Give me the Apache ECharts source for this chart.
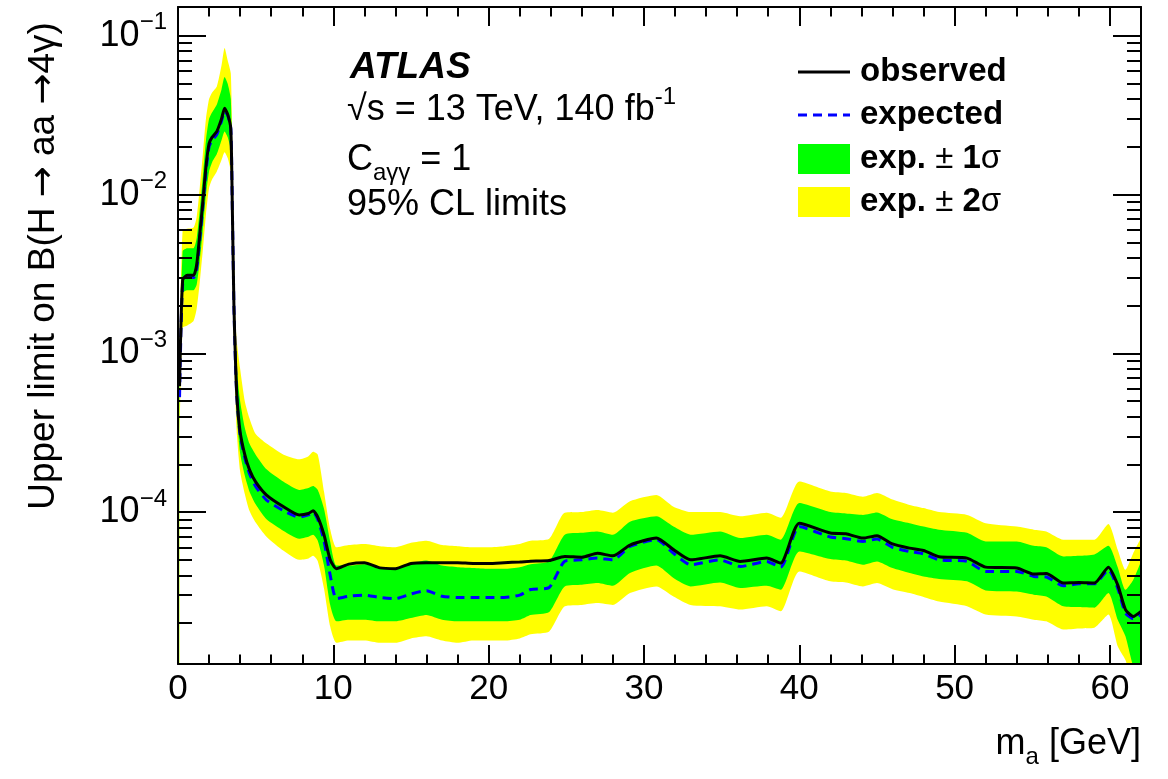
<!DOCTYPE html>
<html>
<head>
<meta charset="utf-8">
<script src="https://cdn.jsdelivr.net/npm/echarts@6.0.0/dist/echarts.min.js"></script>
<style>
html, body { margin: 0; padding: 0; background: #fff; }
#chart { width: 1168px; height: 779px; }
</style>
</head>
<body>
<div id="chart"></div>
<script>
// m_a [GeV]
var mass = [0.1, 0.3, 0.6, 1.0, 1.2, 1.4, 1.6, 1.8, 2.0, 2.2,
    2.5, 2.8, 3.0, 3.2, 3.4, 3.5, 3.6, 3.7, 3.8, 4.0,
    4.3, 4.6, 5.0, 5.7, 6.8, 7.8, 8.4, 8.7, 9.0, 9.4,
    9.8, 10.2, 11, 12, 13, 14, 15, 16, 17, 18,
    19, 20, 21, 22, 22.7, 23.9, 24.9, 26, 27, 28,
    29.1, 30.8, 31.9, 33, 34.9, 36.2, 37.9, 38.8, 40.0, 42,
    43, 44.1, 45, 46, 47.1, 48, 49, 50.8, 52, 54,
    55.1, 55.9, 57, 58, 59, 59.9, 60.5, 61, 61.5, 62];

var observed = [6.2e-4, 2.9e-3, 3.1e-3, 3.1e-3, 3.6e-3, 5.6e-3, 9.0e-3, 1.5e-2, 2.1e-2, 2.3e-2,
    2.5e-2, 3.0e-2, 3.5e-2, 3.2e-2, 2.6e-2, 8.0e-3, 2.0e-3, 9.0e-4, 5.2e-4, 3.2e-4,
    2.3e-4, 1.85e-4, 1.55e-4, 1.28e-4, 1.08e-4, 9.6e-5, 9.8e-5, 1.02e-4, 9.3e-5, 7.2e-5,
    5.0e-5, 4.4e-5, 4.7e-5, 4.8e-5, 4.45e-5, 4.4e-5, 4.75e-5, 4.8e-5, 4.8e-5, 4.8e-5,
    4.75e-5, 4.75e-5, 4.8e-5, 4.85e-5, 4.9e-5, 4.95e-5, 5.25e-5, 5.2e-5, 5.5e-5, 5.3e-5,
    6.2e-5, 6.86e-5, 5.8e-5, 5.0e-5, 5.3e-5, 4.89e-5, 5.13e-5, 4.77e-5, 8.5e-5, 7.38e-5,
    7.3e-5, 6.86e-5, 7.1e-5, 6.3e-5, 5.93e-5, 5.73e-5, 5.23e-5, 5.13e-5, 4.5e-5, 4.44e-5,
    4.07e-5, 4.1e-5, 3.57e-5, 3.6e-5, 3.57e-5, 4.5e-5, 3.48e-5, 2.43e-5, 2.2e-5, 2.37e-5];

var expected = [5.3e-4, 2.75e-3, 3.0e-3, 3.0e-3, 3.4e-3, 5.2e-3, 8.5e-3, 1.4e-2, 2.0e-2, 2.2e-2,
    2.4e-2, 2.9e-2, 3.35e-2, 3.15e-2, 2.6e-2, 8.0e-3, 2.0e-3, 8.6e-4, 5.0e-4, 3.05e-4,
    2.2e-4, 1.75e-4, 1.45e-4, 1.19e-4, 1.02e-4, 9.3e-5, 9.6e-5, 1.0e-4, 9.0e-5, 6.6e-5,
    4.0e-5, 2.85e-5, 2.95e-5, 3.0e-5, 2.9e-5, 2.85e-5, 3.05e-5, 3.2e-5, 2.95e-5, 2.9e-5,
    2.9e-5, 2.9e-5, 2.9e-5, 3.0e-5, 3.25e-5, 3.35e-5, 4.9e-5, 5.0e-5, 5.13e-5, 5.0e-5,
    6.07e-5, 6.7e-5, 5.5e-5, 4.66e-5, 5.0e-5, 4.54e-5, 4.89e-5, 4.5e-5, 8.1e-5, 6.96e-5,
    6.8e-5, 6.53e-5, 6.76e-5, 6.0e-5, 5.65e-5, 5.45e-5, 5.0e-5, 4.89e-5, 4.23e-5, 4.23e-5,
    3.93e-5, 3.9e-5, 3.43e-5, 3.53e-5, 3.53e-5, 4.33e-5, 3.32e-5, 2.31e-5, 2.13e-5, 2.26e-5];

// expected -1 sigma / +1 sigma
var oneSigmaLow = [4.2e-4, 2.4e-3, 2.5e-3, 2.5e-3, 2.7e-3, 3.8e-3, 6.0e-3, 1.0e-2, 1.4e-2, 1.6e-2,
    1.8e-2, 2.2e-2, 2.5e-2, 2.3e-2, 1.9e-2, 6.0e-3, 1.5e-3, 6.6e-4, 3.9e-4, 2.35e-4,
    1.7e-4, 1.35e-4, 1.12e-4, 9.0e-5, 7.6e-5, 6.8e-5, 7.0e-5, 7.2e-5, 6.6e-5, 4.6e-5,
    2.6e-5, 2.05e-5, 2.1e-5, 2.1e-5, 2.05e-5, 2.05e-5, 2.15e-5, 2.25e-5, 2.1e-5, 2.05e-5,
    2.05e-5, 2.05e-5, 2.05e-5, 2.1e-5, 2.25e-5, 2.35e-5, 3.4e-5, 3.48e-5, 3.57e-5, 3.43e-5,
    4.13e-5, 4.6e-5, 3.84e-5, 3.4e-5, 3.6e-5, 3.32e-5, 3.43e-5, 3.24e-5, 5.65e-5, 5.06e-5,
    4.95e-5, 4.66e-5, 4.89e-5, 4.44e-5, 4.13e-5, 3.93e-5, 3.79e-5, 3.66e-5, 3.21e-5, 3.16e-5,
    3.02e-5, 2.94e-5, 2.55e-5, 2.52e-5, 2.5e-5, 3.09e-5, 2.1e-5, 1.65e-5, 1.07e-5, 9.0e-6];

var oneSigmaHigh = [8.0e-4, 4.4e-3, 4.6e-3, 4.6e-3, 5.3e-3, 8.0e-3, 1.3e-2, 2.2e-2, 3.0e-2, 3.3e-2,
    3.7e-2, 4.6e-2, 5.5e-2, 5.0e-2, 4.0e-2, 1.3e-2, 3.2e-3, 1.35e-3, 7.8e-4, 5.0e-4,
    3.4e-4, 2.7e-4, 2.3e-4, 1.86e-4, 1.55e-4, 1.38e-4, 1.42e-4, 1.46e-4, 1.38e-4, 1.05e-4,
    6.5e-5, 4.6e-5, 4.6e-5, 4.7e-5, 4.5e-5, 4.45e-5, 4.75e-5, 4.95e-5, 4.6e-5, 4.5e-5,
    4.45e-5, 4.4e-5, 4.4e-5, 4.5e-5, 4.7e-5, 4.9e-5, 7.2e-5, 7.4e-5, 7.55e-5, 7.2e-5,
    8.7e-5, 9.4e-5, 8.1e-5, 7.2e-5, 7.55e-5, 6.86e-5, 7.2e-5, 6.7e-5, 1.14e-4, 1.0e-4,
    9.8e-5, 9.6e-5, 9.95e-5, 9.0e-5, 8.5e-5, 8.1e-5, 7.74e-5, 7.4e-5, 6.53e-5, 6.53e-5,
    6.13e-5, 6.0e-5, 5.25e-5, 5.3e-5, 5.4e-5, 6.13e-5, 4.5e-5, 3.24e-5, 3.74e-5, 4.89e-5];

// expected -2 sigma / +2 sigma
var twoSigmaLow = [3.0e-4, 1.45e-3, 1.5e-3, 1.6e-3, 1.9e-3, 2.8e-3, 4.5e-3, 7.5e-3, 1.1e-2, 1.25e-2,
    1.4e-2, 1.65e-2, 1.85e-2, 1.7e-2, 1.4e-2, 4.5e-3, 1.1e-3, 5.0e-4, 3.0e-4, 1.8e-4,
    1.3e-4, 1.02e-4, 8.6e-5, 7.0e-5, 5.7e-5, 5.0e-5, 5.1e-5, 5.3e-5, 4.9e-5, 3.3e-5,
    1.9e-5, 1.5e-5, 1.55e-5, 1.55e-5, 1.5e-5, 1.5e-5, 1.6e-5, 1.65e-5, 1.55e-5, 1.5e-5,
    1.55e-5, 1.55e-5, 1.55e-5, 1.6e-5, 1.7e-5, 1.77e-5, 2.55e-5, 2.6e-5, 2.67e-5, 2.6e-5,
    3.09e-5, 3.4e-5, 2.94e-5, 2.6e-5, 2.55e-5, 2.43e-5, 2.55e-5, 2.37e-5, 4.23e-5, 3.66e-5,
    3.6e-5, 3.4e-5, 3.57e-5, 3.27e-5, 3.09e-5, 2.92e-5, 2.73e-5, 2.55e-5, 2.26e-5, 2.2e-5,
    2.1e-5, 2.05e-5, 1.82e-5, 1.85e-5, 1.87e-5, 2.26e-5, 1.43e-5, 1.17e-5, 8.0e-6, 6.0e-6];

var twoSigmaHigh = [1.1e-3, 6.0e-3, 6.1e-3, 6.2e-3, 7.2e-3, 1.1e-2, 1.8e-2, 3.0e-2, 4.0e-2, 4.4e-2,
    4.8e-2, 6.5e-2, 8.4e-2, 7.0e-2, 5.8e-2, 2.0e-2, 5.0e-3, 1.6e-3, 1.15e-3, 8.0e-4,
    5.0e-4, 3.9e-4, 3.1e-4, 2.7e-4, 2.3e-4, 2.15e-4, 2.25e-4, 2.4e-4, 2.3e-4, 1.35e-4,
    7.8e-5, 6.0e-5, 6.2e-5, 6.3e-5, 6.1e-5, 6.0e-5, 6.4e-5, 6.6e-5, 6.2e-5, 6.1e-5,
    6.0e-5, 6.0e-5, 6.1e-5, 6.3e-5, 6.6e-5, 6.8e-5, 9.9e-5, 1.0e-4, 1.03e-4, 9.9e-5,
    1.17e-4, 1.28e-4, 1.08e-4, 1.0e-4, 1.0e-4, 9.4e-5, 9.9e-5, 9.2e-5, 1.56e-4, 1.35e-4,
    1.32e-4, 1.25e-4, 1.32e-4, 1.2e-4, 1.11e-4, 1.06e-4, 1.0e-4, 9.6e-5, 8.5e-5, 8.1e-5,
    7.74e-5, 7.55e-5, 6.7e-5, 6.7e-5, 6.7e-5, 8.4e-5, 5.8e-5, 4.33e-5, 5.5e-5, 6.86e-5];

// axis ticks
var xMajorTicks = [0, 10, 20, 30, 40, 50, 60];
var xMinorTicks = [2, 4, 6, 8, 12, 14, 16, 18, 22, 24, 26, 28, 32, 34, 36, 38, 42, 44, 46, 48, 52, 54, 56, 58, 62];
var yMajorTicks = [1e-4, 1e-3, 1e-2, 1e-1];
var yMinorTicks = [2e-5, 3e-5, 4e-5, 5e-5, 6e-5, 7e-5, 8e-5, 9e-5,
    2e-4, 3e-4, 4e-4, 5e-4, 6e-4, 7e-4, 8e-4, 9e-4,
    2e-3, 3e-3, 4e-3, 5e-3, 6e-3, 7e-3, 8e-3, 9e-3,
    2e-2, 3e-2, 4e-2, 5e-2, 6e-2, 7e-2, 8e-2, 9e-2];

var X_MIN = 0, X_MAX = 62;
var Y_MIN = 1.104e-5, Y_MAX = 0.152;
var FONT = '"Liberation Sans", Arial, Helvetica, sans-serif';

var richText = {
    b: { fontSize: 36, fontFamily: FONT, lineHeight: 50, color: '#000' },
    s: { fontSize: 24, fontFamily: FONT, lineHeight: 24, verticalAlign: 'top', color: '#000' },
    d: { fontSize: 24, fontFamily: FONT, lineHeight: 24, verticalAlign: 'bottom', color: '#000' },
    t: { fontSize: 37, fontFamily: FONT, color: '#000' },
    a: { fontSize: 37, fontFamily: '"DejaVu Sans"', color: '#000' },
    lg: { fontSize: 33, fontFamily: FONT, fontWeight: 'bold', color: '#000' },
    lgs: { fontSize: 33, fontFamily: FONT, color: '#000' }
};

function pairs(ys) {
    return mass.map(function (m, i) { return [m, ys[i]]; });
}

function xAxisDef(pos, ticks, len, main) {
    return {
        type: 'value', min: X_MIN, max: X_MAX, position: pos, z: 10,
        axisLine: { show: main, onZero: false, lineStyle: { color: '#000', width: 2 } },
        axisTick: { show: true, inside: true, length: len, customValues: ticks, lineStyle: { color: '#000', width: 2 } },
        axisLabel: {
            show: main && pos === 'bottom', customValues: xMajorTicks, margin: 8,
            fontSize: 35, fontFamily: FONT, color: '#000'
        },
        splitLine: { show: false }
    };
}

function yAxisDef(pos, ticks, len, main) {
    return {
        type: 'log', logBase: 10, min: Y_MIN, max: Y_MAX, position: pos, z: 10,
        axisLine: { show: main, onZero: false, lineStyle: { color: '#000', width: 2 } },
        axisTick: { show: true, inside: true, length: len, customValues: ticks, lineStyle: { color: '#000', width: 2 } },
        axisLabel: {
            show: main && pos === 'left', customValues: yMajorTicks, margin: 11,
            formatter: function (v) {
                var e = Math.round(Math.log(v) / Math.LN10);
                return '{b|10}{s|\u2212' + Math.abs(e) + '}';
            },
            rich: richText
        },
        splitLine: { show: false }
    };
}

function band(name, ys, color) {
    return {
        name: name, type: 'line', data: pairs(ys), symbol: 'none', smooth: 0.2,
        lineStyle: { width: 0 }, areaStyle: { color: color, opacity: 1, origin: 'start' },
        silent: true, animation: false, z: 2
    };
}

var chart = echarts.init(document.getElementById('chart'), null, { renderer: 'canvas' });

var legendX = 798, legendTextX = 860;
var option = {
    backgroundColor: '#fff',
    animation: false,
    grid: { left: 178, right: 27, top: 7, bottom: 115, containLabel: false },
    xAxis: [
        xAxisDef('bottom', xMajorTicks, 19, true),
        xAxisDef('bottom', xMinorTicks, 9.5, false),
        xAxisDef('top', xMajorTicks, 19, true),
        xAxisDef('top', xMinorTicks, 9.5, false)
    ],
    yAxis: [
        yAxisDef('left', yMajorTicks, 28, true),
        yAxisDef('left', yMinorTicks, 14, false),
        yAxisDef('right', yMajorTicks, 28, true),
        yAxisDef('right', yMinorTicks, 14, false)
    ],
    series: [
        // layered fills: +2s yellow, +1s green, -1s yellow, -2s white
        band('exp. +2s', twoSigmaHigh, '#ffff00'),
        band('exp. +1s', oneSigmaHigh, '#00ff00'),
        band('exp. -1s', oneSigmaLow, '#ffff00'),
        band('exp. -2s', twoSigmaLow, '#ffffff'),
        {
            name: 'expected', type: 'line', data: pairs(expected), symbol: 'none', smooth: 0.2,
            lineStyle: { color: '#0000ff', width: 3, type: [9, 6] }, z: 3, animation: false
        },
        {
            name: 'observed', type: 'line', data: pairs(observed), symbol: 'none', smooth: 0.2,
            lineStyle: { color: '#000', width: 3 }, z: 4, animation: false
        }
    ],
    graphic: [
        {
            type: 'text', x: 44, y: 266, rotation: Math.PI / 2,
            style: {
                text: '{t|Upper limit on B(H }{a|\u2192}{t| aa }{a|\u2192}{t|4\u03b3)}', rich: richText,
                textAlign: 'center', textVerticalAlign: 'middle'
            }
        },
        {
            type: 'text', x: 1141, y: 744,
            style: {
                text: '{b|m}{d|a}{b| [GeV]}', rich: richText,
                textAlign: 'right', textVerticalAlign: 'middle'
            }
        },
        {
            type: 'text', x: 350, y: 68,
            style: { text: 'ATLAS', font: 'italic bold 37px ' + FONT, fill: '#000', textVerticalAlign: 'middle' }
        },
        {
            type: 'text', x: 347, y: 110,
            style: { text: '{b|\u221as = 13 TeV, 140 fb}{s|-1}', rich: richText, textVerticalAlign: 'middle' }
        },
        {
            type: 'text', x: 347, y: 160,
            style: { text: '{b|C}{d|a\u03b3\u03b3}{b| = 1}', rich: richText, textVerticalAlign: 'middle' }
        },
        {
            type: 'text', x: 347, y: 205,
            style: { text: '95% CL limits', font: '36px ' + FONT, fill: '#000', textVerticalAlign: 'middle' }
        },
        // legend
        { type: 'line', shape: { x1: legendX, y1: 72, x2: legendX + 52, y2: 72 }, style: { stroke: '#000', lineWidth: 3 } },
        { type: 'line', shape: { x1: legendX, y1: 115, x2: legendX + 52, y2: 115 }, style: { stroke: '#0000ff', lineWidth: 3, lineDash: [9, 6] } },
        { type: 'rect', shape: { x: legendX, y: 144, width: 52, height: 30 }, style: { fill: '#00ff00' } },
        { type: 'rect', shape: { x: legendX, y: 187, width: 52, height: 30 }, style: { fill: '#ffff00' } },
        { type: 'text', x: legendTextX, y: 72, style: { text: 'observed', font: 'bold 33px ' + FONT, fill: '#000', textVerticalAlign: 'middle' } },
        { type: 'text', x: legendTextX, y: 115, style: { text: 'expected', font: 'bold 33px ' + FONT, fill: '#000', textVerticalAlign: 'middle' } },
        { type: 'text', x: legendTextX, y: 159, style: { text: '{lg|exp. }{lgs|\u00b1 }{lg|1}{lgs|\u03c3}', rich: richText, textVerticalAlign: 'middle' } },
        { type: 'text', x: legendTextX, y: 202, style: { text: '{lg|exp. }{lgs|\u00b1 }{lg|2}{lgs|\u03c3}', rich: richText, textVerticalAlign: 'middle' } }
    ]
};

chart.setOption(option);
</script>
</body>
</html>
